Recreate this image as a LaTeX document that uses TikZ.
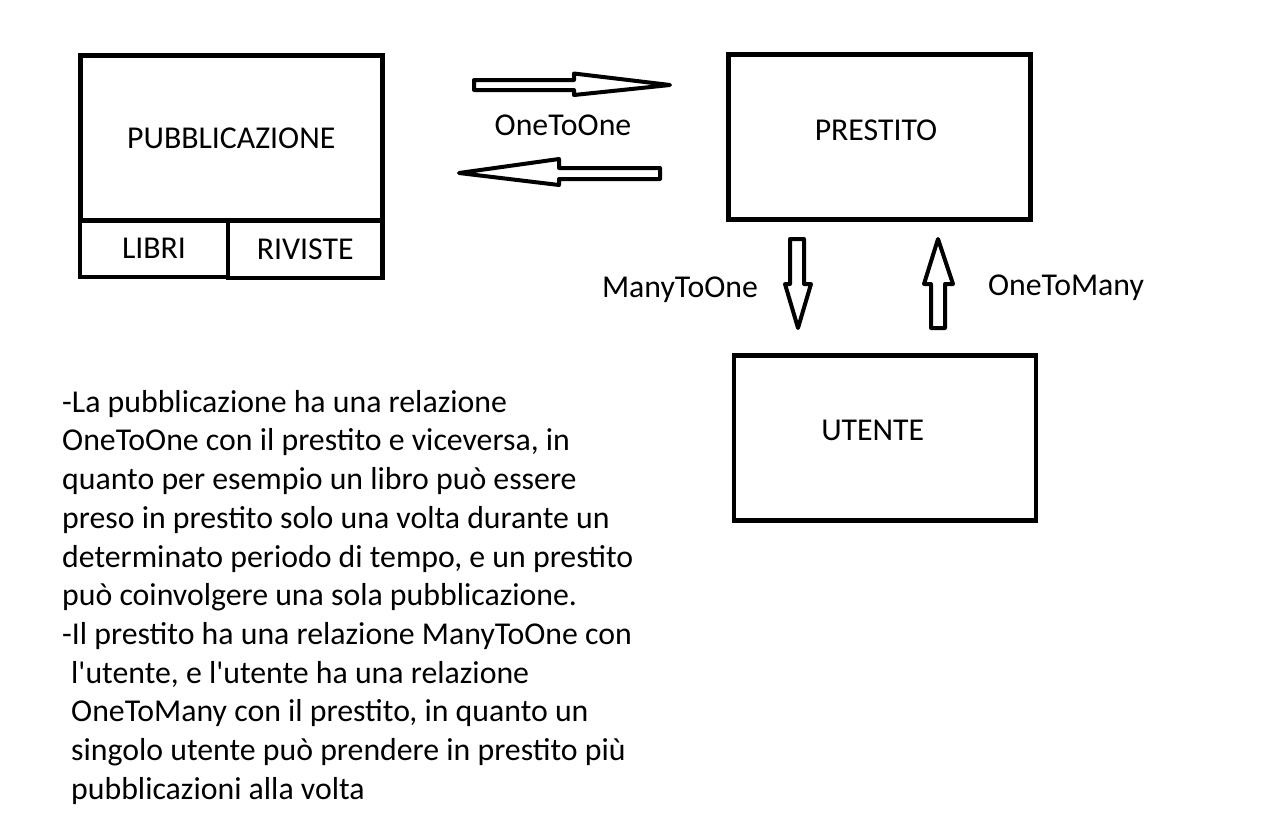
\documentclass[tikz,border=0pt]{standalone}
\usepackage{fontspec}
\newfontfamily\calibri{Carlito}
\begin{document}
\begin{tikzpicture}[x=1pt,y=-1pt,
    every node/.style={font=\calibri\fontsize{31.8}{38.7}\selectfont,inner sep=0pt},
    entity/.style={draw,line width=4.5pt,minimum width=302pt,minimum height=165pt},
    subentity/.style={draw,line width=4.5pt,minimum height=57pt},
    blockarrow/.style={draw,line width=4pt,line join=round}]
  \useasboundingbox (0,0) rectangle (1278,836);

  % entities
  \node[entity] (pubbl) at (231.25,137.8) {PUBBLICAZIONE};
  \node[subentity,minimum width=148pt] (libri) at (154,248.6) {LIBRI};
  \node[subentity,minimum width=154.5pt] (riviste) at (305.25,249.5) {RIVISTE};
  \node[entity] (prestito) at (879.5,137) {};
  \node[anchor=base] (prestitolbl) at ([shift={(-3.5,3)}]prestito.center) {PRESTITO};
  \node[entity] (utente) at (884.75,438) {};
  \node[anchor=base] (utentelbl) at ([shift={(-12,2)}]utente.center) {UTENTE};

  % relation arrows
  \draw[blockarrow] (474,80) -- (574,80) -- (574,73.5) -- (670,85) -- (574,95) -- (574,90) -- (474,90) -- cycle;
  \draw[blockarrow] (660,168) -- (559,168) -- (559,159) -- (459,173) -- (559,185) -- (559,179) -- (660,179) -- cycle;
  \draw[blockarrow] (790,239) -- (804,239) -- (804,284) -- (811,284) -- (798,328) -- (785,284) -- (790,284) -- cycle;
  \draw[blockarrow] (938,239) -- (953,284) -- (945,284) -- (945,328) -- (931,328) -- (931,284) -- (924,284) -- cycle;

  \node[anchor=base] (onetoone) at (563,135) {OneToOne};
  \node[anchor=base] (manytoone) at (680,297) {ManyToOne};
  \node[anchor=base] (onetomany) at (1066,295) {OneToMany};

  % note
  \node[anchor=north west,align=left] (note) at (62,390) {-La pubblicazione ha una relazione\\
    OneToOne con il prestito e viceversa, in\\
    quanto per esempio un libro può essere\\
    preso in prestito solo una volta durante un\\
    determinato periodo di tempo, e un prestito\\
    può coinvolgere una sola pubblicazione.\\
    -Il prestito ha una relazione ManyToOne con\\
    \hspace*{9pt}l'utente, e l'utente ha una relazione\\
    \hspace*{9pt}OneToMany con il prestito, in quanto un\\
    \hspace*{9pt}singolo utente può prendere in prestito più\\
    \hspace*{9pt}pubblicazioni alla volta};
\end{tikzpicture}
\end{document}
